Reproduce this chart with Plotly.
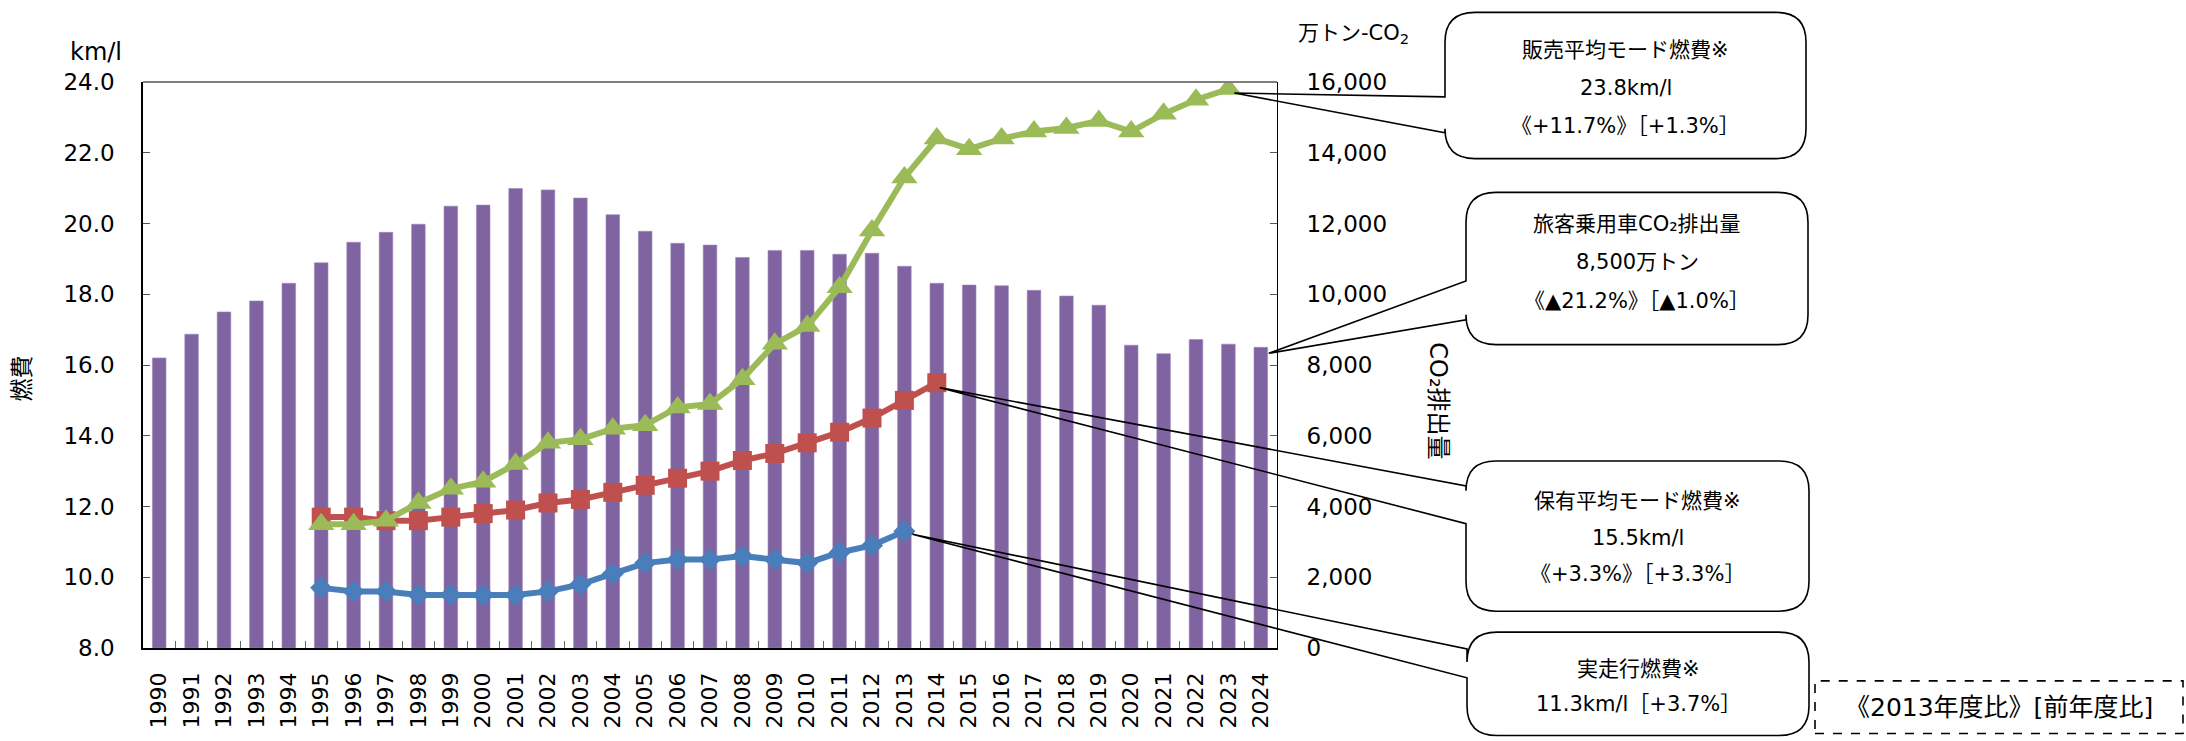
import plotly.graph_objects as go

# ---- data -------------------------------------------------------------
years = ["1990", "1991", "1992", "1993", "1994", "1995", "1996", "1997", "1998", "1999",
         "2000", "2001", "2002", "2003", "2004", "2005", "2006", "2007", "2008", "2009",
         "2010", "2011", "2012", "2013", "2014", "2015", "2016", "2017", "2018", "2019",
         "2020", "2021", "2022", "2023", "2024"]

# 旅客乗用車CO2排出量 (万トン-CO2)
co2_emissions = [8200, 8870, 9500, 9810, 10310, 10890, 11470, 11750, 11980, 12490,
                 12520, 12990, 12950, 12720, 12250, 11780, 11440, 11390, 11040, 11240,
                 11240, 11130, 11160, 10790, 10310, 10260, 10240, 10110, 9950, 9690,
                 8560, 8320, 8720, 8590, 8500]

# 実走行燃費 (km/l), 1995-2013
real_years = years[5:24]
real_fuel = [9.7, 9.6, 9.6, 9.5, 9.5, 9.5, 9.5, 9.6, 9.8, 10.1,
             10.4, 10.5, 10.5, 10.6, 10.5, 10.4, 10.7, 10.9, 11.3]

# 保有平均モード燃費 (km/l), 1995-2014
fleet_years = years[5:25]
fleet_fuel = [11.7, 11.7, 11.6, 11.6, 11.7, 11.8, 11.9, 12.1, 12.2, 12.4,
              12.6, 12.8, 13.0, 13.3, 13.5, 13.8, 14.1, 14.5, 15.0, 15.5]

# 販売平均モード燃費 (km/l), 1995-2023
sales_years = years[5:34]
sales_fuel = [11.5, 11.5, 11.6, 12.1, 12.5, 12.7, 13.2, 13.8, 13.9, 14.2,
              14.3, 14.8, 14.9, 15.6, 16.6, 17.1, 18.2, 19.8, 21.3, 22.4,
              22.1, 22.4, 22.6, 22.7, 22.9, 22.6, 23.1, 23.5, 23.8]

FUEL_RANGE = [8, 24]
CO2_RANGE = [0, 16000]

# ---- page geometry (pixels) ------------------------------------------
FIG_W, FIG_H = 2186, 741
L, R, T, B = 143, 1277, 82, 651
PW, PH = R - L, B - T

LATIN = "DejaVu Sans, Noto Sans CJK JP, sans-serif"
CJK = "DejaVu Sans, Noto Sans CJK JP, sans-serif"


def px(x):
    return (x - L) / PW


def py(y):
    return (B - y) / PH


def cat_x(label):
    i = years.index(label)
    return (i + 0.5) / len(years)


def fuel_y(v):
    return (v - FUEL_RANGE[0]) / (FUEL_RANGE[1] - FUEL_RANGE[0])


def co2_y(v):
    return (v - CO2_RANGE[0]) / (CO2_RANGE[1] - CO2_RANGE[0])


fig = go.Figure()

fig.add_trace(go.Bar(
    x=years, y=co2_emissions, yaxis="y", name="旅客乗用車CO2排出量",
    marker=dict(color="#8064A2", line=dict(color="#9d88ba", width=0.6)),
))

fig.add_trace(go.Scatter(
    x=real_years, y=real_fuel, yaxis="y2", mode="lines+markers", name="実走行燃費",
    line=dict(color="#4A7EBB", width=6),
    marker=dict(symbol="diamond", size=17, color="#4A7EBB"),
))
fig.add_trace(go.Scatter(
    x=fleet_years, y=fleet_fuel, yaxis="y2", mode="lines+markers", name="保有平均モード燃費",
    line=dict(color="#C0504D", width=6),
    marker=dict(symbol="square", size=19, color="#C0504D"),
))
fig.add_trace(go.Scatter(
    x=sales_years, y=sales_fuel, yaxis="y2", mode="lines+markers", name="販売平均モード燃費",
    line=dict(color="#9BBB59", width=6),
    marker=dict(symbol="triangle-up", size=23, color="#9BBB59"),
))

shapes = []
annotations = []

# top frame line
shapes.append(dict(type="line", xref="paper", yref="paper", x0=0, x1=1, y0=1, y1=1,
                   line=dict(color="#808080", width=2)))


def callout(box, wedge, tip, lines, line_ys):
    """Rounded box with a two-line pointer leaving its left edge."""
    x0, y0, x1, y1 = box          # pixels
    wy_top, wy_bot = wedge        # pixels on the left edge
    tx, ty = tip                  # paper coords
    r = 30
    rx, ry = r / PW, r / PH
    X0, X1 = px(x0), px(x1)
    Y0, Y1 = py(y0), py(y1)      # Y0 is top (larger)
    path = (
        f"M {X0 + rx},{Y0} L {X1 - rx},{Y0} Q {X1},{Y0} {X1},{Y0 - ry} "
        f"L {X1},{Y1 + ry} Q {X1},{Y1} {X1 - rx},{Y1} "
        f"L {X0 + rx},{Y1} Q {X0},{Y1} {X0},{Y1 + ry} "
        f"L {X0},{py(wy_bot)} L {tx},{ty} L {X0},{py(wy_top)} "
        f"L {X0},{Y0 - ry} Q {X0},{Y0} {X0 + rx},{Y0}"
    )
    shapes.append(dict(type="path", xref="paper", yref="paper", path=path,
                       fillcolor="rgba(255,255,255,0)", line=dict(color="black", width=1.6),
                       layer="above"))
    cx = px((x0 + x1) / 2)
    for txt, ly in zip(lines, line_ys):
        annotations.append(dict(text=txt, x=cx, y=py(ly), xref="paper", yref="paper",
                                xanchor="center", yanchor="middle", showarrow=False,
                                font=dict(family=CJK, size=21, color="black")))


# 販売平均モード燃費 → last sales point
callout((1445, 12, 1806, 159), (97, 133),
        (cat_x(sales_years[-1]) + 6 / PW, fuel_y(sales_fuel[-1]) - 4 / PH),
        ["販売平均モード燃費※", f"{sales_fuel[-1]:.1f}km/l", "《+11.7%》［+1.3%］"],
        [50, 88, 126])

# 旅客乗用車CO2排出量 → last bar
callout((1466, 193, 1808, 346), (282, 321),
        (cat_x(years[-1]) + 8 / PW, co2_y(co2_emissions[-1]) - 6 / PH),
        ["旅客乗用車CO₂排出量", f"{co2_emissions[-1]:,}万トン", "《▲21.2%》［▲1.0%］"],
        [225, 263, 302])

# 保有平均モード燃費 → last fleet point
callout((1466, 463, 1809, 614), (488, 526),
        (cat_x(fleet_years[-1]) + 3 / PW, fuel_y(fleet_fuel[-1]) - 5 / PH),
        ["保有平均モード燃費※", f"{fleet_fuel[-1]:.1f}km/l", "《+3.3%》［+3.3%］"],
        [503, 540, 577])

# 実走行燃費 → last real-driving point
callout((1467, 635, 1809, 739), (652, 681),
        (cat_x(real_years[-1]) + 8 / PW, fuel_y(real_fuel[-1]) - 3 / PH),
        ["実走行燃費※", f"{real_fuel[-1]:.1f}km/l［+3.7%］"],
        [672, 707])

# comparison-basis key
shapes.append(dict(type="rect", xref="paper", yref="paper",
                   x0=px(1815), x1=px(2183), y0=py(737), y1=py(684),
                   line=dict(color="black", width=1.6, dash="dash"), fillcolor="white"))
annotations.append(dict(text="《2013年度比》[前年度比]", x=px(1999), y=py(711),
                        xref="paper", yref="paper", xanchor="center", yanchor="middle",
                        showarrow=False, font=dict(family=CJK, size=25, color="black")))

# axis unit labels and titles
annotations.append(dict(text="km/l", x=px(96), y=py(52), xref="paper", yref="paper",
                        xanchor="center", yanchor="middle", showarrow=False,
                        font=dict(family=LATIN, size=24, color="black")))
annotations.append(dict(text="万トン-CO<sub>2</sub>", x=px(1353), y=py(34), xref="paper",
                        yref="paper", xanchor="center", yanchor="middle", showarrow=False,
                        font=dict(family=CJK, size=21, color="black")))
annotations.append(dict(text="燃費", x=px(22), y=py(380), xref="paper", yref="paper",
                        xanchor="center", yanchor="middle", showarrow=False, textangle=-90,
                        font=dict(family=CJK, size=23, color="black")))
annotations.append(dict(text="CO₂排出量", x=px(1438), y=py(402), xref="paper", yref="paper",
                        xanchor="center", yanchor="middle", showarrow=False, textangle=90,
                        font=dict(family=CJK, size=24, color="black")))

fig.update_layout(
    width=FIG_W, height=FIG_H, autosize=False,
    margin=dict(l=L, r=FIG_W - R, t=T, b=FIG_H - B, pad=0),
    paper_bgcolor="white", plot_bgcolor="white",
    showlegend=False, bargap=0.58,
    shapes=shapes, annotations=annotations,
    xaxis=dict(
        type="category", categoryorder="array", categoryarray=years,
        range=[-0.5, len(years) - 0.5],
        tickangle=-90, ticks="inside", tickson="boundaries", ticklen=7,
        tickcolor="#666666", tickwidth=1.2,
        showline=True, linecolor="black", linewidth=1.6, showgrid=False,
        tickfont=dict(family=LATIN, size=22, color="black"),
        ticklabelstandoff=14,
    ),
    yaxis=dict(
        side="right", range=CO2_RANGE, dtick=2000, tickformat=",d",
        ticks="inside", ticklen=7, tickcolor="#555555",
        showline=True, linecolor="black", linewidth=1,
        showgrid=False, zeroline=False,
        tickfont=dict(family=LATIN, size=23, color="black"),
        ticklabelstandoff=24,
    ),
    yaxis2=dict(
        side="left", overlaying="y", range=FUEL_RANGE, dtick=2, tickformat=".1f",
        ticks="inside", ticklen=7, tickcolor="#555555",
        showline=True, linecolor="black", linewidth=1.6,
        showgrid=False, zeroline=False,
        tickfont=dict(family=LATIN, size=23, color="black"),
        ticklabelstandoff=22,
    ),
)

fig.write_html("out.html")
